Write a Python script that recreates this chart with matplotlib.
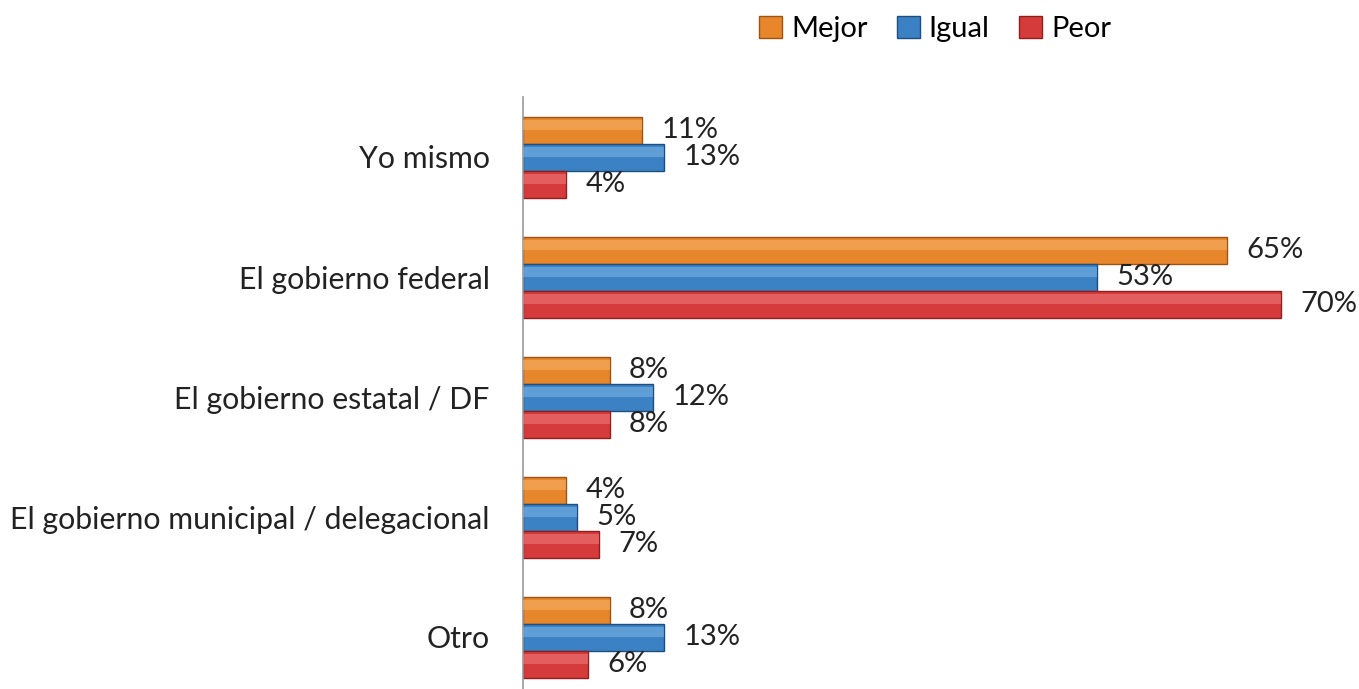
import matplotlib.pyplot as plt
import numpy as np

categorias = ['Yo mismo', 'El gobierno federal', 'El gobierno estatal / DF',
              'El gobierno municipal / delegacional', 'Otro']
mejor = [11, 65, 8, 4, 8]
igual = [13, 53, 12, 5, 13]
peor = [4, 70, 8, 7, 6]
series = ['Mejor', 'Igual', 'Peor']

colores = ['#E8862B', '#3B82C4', '#D63B3B']
claros = ['#F6B56B', '#7DB6E6', '#EE7B7B']
bordes = ['#9C5414', '#1F4E7E', '#8E1F1F']

plt.rcParams['font.family'] = ['Lato', 'DejaVu Sans']

fig = plt.figure(figsize=(13.59, 6.89), dpi=100)
ax = fig.add_axes([523 / 1359, 0, 812 / 1359, 592 / 689])

y = np.arange(len(categorias))
h = 0.225
for i, (vals, c, cl, b) in enumerate(zip([mejor, igual, peor], colores, claros, bordes)):
    pos = y + (i - 1) * h
    ax.barh(pos, vals, height=h, color=c, edgecolor=b, linewidth=1.0, label=series[i], zorder=2)
    # brillo superior tipo bisel
    ax.barh(pos - h * 0.18, vals, height=h * 0.36, color=cl, linewidth=0, zorder=3, alpha=0.55)
    for p, v in zip(pos, vals):
        ax.text(v + 1.8, p, f'{v}%', va='center', ha='left', fontsize=21, color='#222222')

ax.set_xlim(0, 75)
ax.set_ylim(4 + 52 / 120, -0.5)
ax.set_yticks(y)
ax.set_yticklabels(categorias, fontsize=21.8, color='#222222')
ax.tick_params(axis='y', length=0, pad=24)
ax.set_xticks([])
for s in ['top', 'right', 'bottom']:
    ax.spines[s].set_visible(False)
ax.spines['left'].set_color('#999999')
ax.spines['left'].set_linewidth(1.2)

handles, labels = ax.get_legend_handles_labels()
fig.legend(handles, labels, loc='upper center', bbox_to_anchor=(0.688, 1.015), ncol=3,
           frameon=False, fontsize=21, handlelength=0.8, handleheight=0.8,
           handletextpad=0.3, columnspacing=1.0)

fig.savefig('out.png', dpi=100)
